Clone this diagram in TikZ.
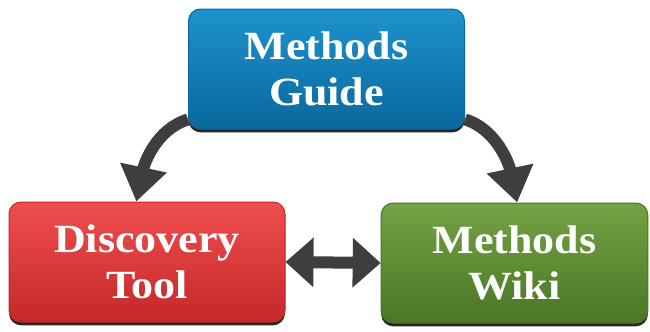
\documentclass[tikz,border=0pt]{standalone}
\usepackage{fontspec}
\newfontfamily\boxfont[FakeStretch=1.1]{Liberation Serif}
\usetikzlibrary{arrows.meta,shadows}

\definecolor{guidetop}{RGB}{30,146,206}
\definecolor{guidebot}{RGB}{10,104,156}
\definecolor{tooltop}{RGB}{240,78,78}
\definecolor{toolbot}{RGB}{196,40,40}
\definecolor{wikitop}{RGB}{116,162,68}
\definecolor{wikibot}{RGB}{74,118,38}
\definecolor{linkgray}{RGB}{62,62,62}

\tikzset{every picture/.style={line width=0.75pt}}
\tikzset{
	box/.style={rounded corners=9pt, minimum width=207pt, minimum height=90pt, align=center, text=white,
		font=\boxfont\bfseries\fontsize{30}{34.5}\selectfont,
		drop shadow={shadow xshift=0pt, shadow yshift=-2.5pt, opacity=0.85, fill=black}},
	curvelink/.style={draw=linkgray, line width=9pt, -{Triangle[length=26pt,width=34pt]}},
	bilink/.style={draw=linkgray, line width=9pt, {Triangle[length=21pt,width=36pt]}-{Triangle[length=21pt,width=36pt]}}
}

\begin{document}
\begin{tikzpicture}[x=0.75pt,y=0.75pt,yscale=-1,xscale=1]
	\path[use as bounding box] (0,0) rectangle (650,332);

	%Shape: Rounded Rect [id:guide]
	\node[box, top color=guidetop, bottom color=guidebot, draw=guidebot] (guide) at (326.5,69) {Methods\\Guide};
	%Shape: Rounded Rect [id:tool]
	\node[box, top color=tooltop, bottom color=toolbot, draw=toolbot] (tool) at (147,262) {Discovery\\Tool};
	%Shape: Rounded Rect [id:wiki]
	\node[box, minimum width=200pt, top color=wikitop, bottom color=wikibot, draw=wikibot] (wiki) at (514.5,263) {Methods\\Wiki};

	%Curve Lines
	\draw[curvelink] (guide.200) .. controls +(-32,10) and +(8,-38) .. ([xshift=-8pt]tool.north);
	\draw[curvelink] (guide.-20) .. controls +(32,10) and +(-8,-38) .. ([xshift=2pt]wiki.north);
	%Straight Lines
	\draw[bilink] (tool.east) -- (wiki.west);

\end{tikzpicture}
\end{document}
